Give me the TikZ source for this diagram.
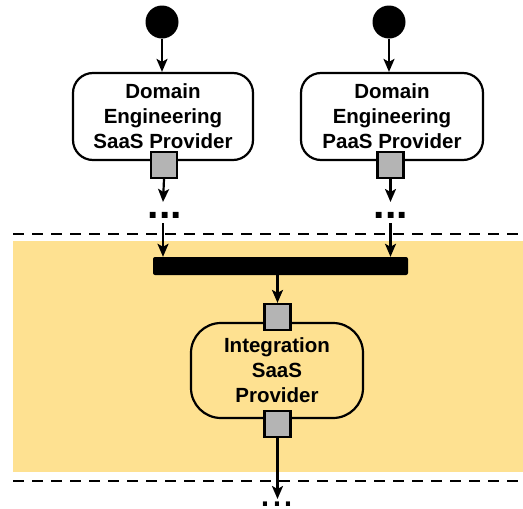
\documentclass[tikz,border=0pt]{standalone}
\usepackage{fontspec}
\setmainfont{Liberation Sans}
\usetikzlibrary{arrows.meta}
\definecolor{bandyellow}{RGB}{254,225,145}
\definecolor{pingray}{RGB}{180,180,180}
\tikzset{
  flow/.style={line width=2.2pt,-{Stealth[length=13pt,width=11pt,inset=3pt]}},
  action/.style={draw,line width=2.2pt,rounded corners=20pt,align=center,
    inner sep=0pt,font=\fontsize{20.5}{25}\selectfont\bfseries},
  pin/.style={draw,line width=2.2pt,fill=pingray,minimum size=26pt,inner sep=0pt},
  startdot/.style={circle,fill=black,minimum size=33pt,inner sep=0pt},
  lane/.style={line width=2.5pt,dash pattern=on 11pt off 8pt},
  more/.style={inner sep=0pt,anchor=base}
}
\begin{document}
\begin{tikzpicture}[x=1pt,y=-1pt]
\useasboundingbox (0,0) rectangle (523,509);

% swimlane band and its dashed borders
\fill[bandyellow] (13,241) rectangle (523,472);
\draw[lane] (13,234) -- (523,234);
\draw[lane] (13,481) -- (523,481);

% initial nodes
\node[startdot] (s1) at (162,22) {};
\node[startdot] (s2) at (389,22) {};

% domain engineering actions
\node[action,fill=white,minimum width=180pt,minimum height=87pt] (d1) at (163,116.5)
  {Domain\\Engineering\\SaaS Provider};
\node[action,fill=white,minimum width=182pt,minimum height=87pt] (d2) at (392,116.5)
  {Domain\\Engineering\\PaaS Provider};
\node[pin] (p1) at (164,165) {};
\node[pin] (p2) at (390.5,165) {};

% continuation marks
\node[more,font=\fontsize{41}{41}\selectfont\bfseries] (m1) at (165,218) {...};
\node[more,font=\fontsize{41}{41}\selectfont\bfseries] (m2) at (391,218) {...};

\coordinate (e1) at (163,202);
\coordinate (e2) at (390.5,202);
\coordinate (f1) at (163,223);
\coordinate (f2) at (390.5,223);

% join bar
\node[fill=black,rounded corners=2pt,minimum width=255pt,minimum height=18pt,inner sep=0pt] (bar) at (280.5,266) {};

% integration action
\node[action,fill=bandyellow,rounded corners=30pt,minimum width=172pt,minimum height=95pt] (ia) at (277,370.5)
  {Integration\\SaaS\\Provider};
\node[pin] (ip1) at (277.5,317) {};
\node[pin] (ip2) at (277.5,424) {};

\coordinate (e3) at (277.5,499);
\node[more,font=\fontsize{43}{43}\selectfont] (m3) at (277,506) {...};

% flows
\draw[flow] (s1) -- (s1 |- d1.north);
\draw[flow] (s2) -- (s2 |- d2.north);
\draw[flow] (p1.south) -- (e1);
\draw[flow] (p2.south) -- (e2);
\draw[flow] (f1) -- (f1 |- bar.north);
\draw[flow] (f2) -- (f2 |- bar.north);
\draw[flow] (ip1 |- bar.south) -- (ip1.north);
\draw[flow] (ip2.south) -- (e3);
\end{tikzpicture}
\end{document}
